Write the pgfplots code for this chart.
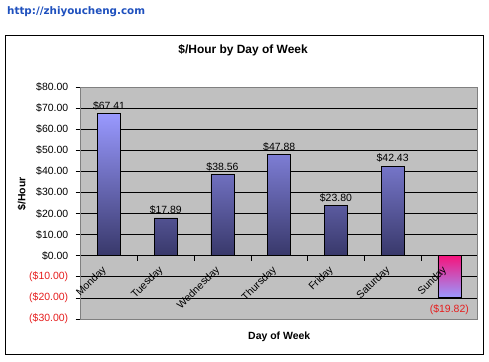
\documentclass[border=0pt]{standalone}
\usepackage{pgfplots}
\pgfplotsset{compat=1.18}
\usepackage{fontspec}
\setmainfont{Liberation Sans}
\newfontfamily\wmfont{DejaVu Sans}
\definecolor{plotgray}{RGB}{192,192,192}
\definecolor{bartop}{RGB}{153,153,255}
\definecolor{barbot}{RGB}{56,56,106}
\definecolor{suntop}{RGB}{245,20,125}
\definecolor{wmblue}{RGB}{30,80,190}
\definecolor{negred}{RGB}{230,30,30}
\pgfplotsset{
  common/.style={
    at={(279.2bp,158bp)}, anchor=center,
    scale only axis, width=397bp, height=232bp,
    xmin=-0.5, xmax=6.5, ymin=-30, ymax=80,
  },
}
\begin{document}
\begin{tikzpicture}[x=1bp,y=1bp]
\fill[white] (0,0) rectangle (489,361);
\draw[black, line width=1bp] (5,7) rectangle (483,326);
\node[anchor=west, inner sep=0pt, text=wmblue, font=\wmfont\bfseries\fontsize{10.4}{12}\selectfont] at (7,349) {http://zhiyoucheng.com};
\begin{axis}[
  common,
  axis x line=middle, axis y line=left,
  x axis line style={-, black, line width=0.8bp},
  y axis line style={-, black, line width=0.8bp},
  axis background/.style={fill=plotgray},
  ybar, bar width=23bp, bar shift=0pt,
  ymajorgrids, grid style={black, line width=0.7bp},
  ytick={-30,-20,...,80},
  yticklabels={\textcolor{negred}{(\$30.00)},\textcolor{negred}{(\$20.00)},\textcolor{negred}{(\$10.00)},\$0.00,\$10.00,\$20.00,\$30.00,\$40.00,\$50.00,\$60.00,\$70.00,\$80.00},
  ytick align=outside, major tick length=5bp, minor tick length=5bp,
  ytick style={black, line width=0.7bp},
  xtick={0,...,6},
  xticklabels={},
  minor xtick={-0.5,0.5,...,6.5},
  xtick align=outside,
  major x tick style={draw=none},
  minor x tick style={black, line width=0.7bp},
  yticklabel style={font=\fontsize{10.5}{12}\selectfont, black, xshift=-4bp},
  every axis title/.style={at={(axis description cs:0.409,1.159)}, anchor=center, font=\bfseries\fontsize{12}{14}\selectfont},
  every axis x label/.style={at={(axis description cs:0.5,-0.078)}, anchor=center, font=\bfseries\fontsize{10.5}{12}\selectfont},
  every axis y label/.style={at={(axis description cs:-0.148,0.54)}, rotate=90, anchor=center, font=\bfseries\fontsize{10.5}{12}\selectfont},
  title={\$/Hour by Day of Week},
  xlabel={Day of Week},
  ylabel={\$/Hour},
  clip=false,
]
\draw[gray, line width=0.8bp] (rel axis cs:0,0) rectangle (rel axis cs:1,1);
\addplot[draw=black, line width=0.7bp, top color=bartop, bottom color=barbot,
  point meta=explicit symbolic, nodes near coords,
  every node near coord/.append style={font=\fontsize{10.5}{12}\selectfont, text=black, anchor=south}]
  coordinates {(0,67.41) [\$67.41] (1,17.89) [\$17.89] (2,38.56) [\$38.56] (3,47.88) [\$47.88] (4,23.80) [\$23.80] (5,42.43) [\$42.43]};
\addplot[draw=black, line width=0.7bp, top color=suntop, bottom color=bartop,
  point meta=explicit symbolic, nodes near coords,
  every node near coord/.append style={font=\fontsize{10.5}{12}\selectfont, text=negred, anchor=north, yshift=-4bp}]
  coordinates {(6,-19.82) [(\$19.82)]};
\end{axis}
\begin{axis}[
  common,
  axis x line=middle, axis y line=none,
  x axis line style={draw=none},
  xtick={0,...,6},
  xticklabels={Monday,Tuesday,Wednesday,Thursday,Friday,Saturday,Sunday},
  major x tick style={draw=none},
  xticklabel style={font=\fontsize{10.5}{12}\selectfont, rotate=45, anchor=north east, black, xshift=-7bp, yshift=4bp},
]
\end{axis}
\end{tikzpicture}
\end{document}
